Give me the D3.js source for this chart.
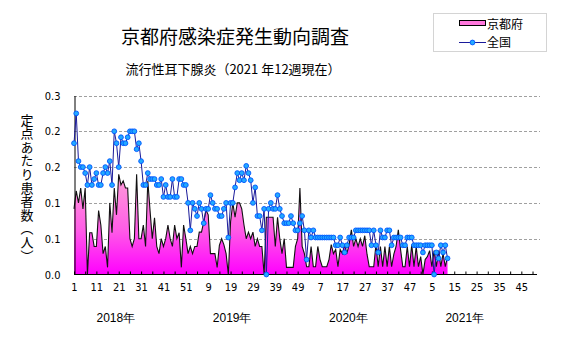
<!DOCTYPE html>
<html><head><meta charset="utf-8">
<script src="https://cdn.jsdelivr.net/npm/d3@7"></script>
<style>body{margin:0;background:#fff}svg{display:block}</style>
</head><body>
<script>
// ---- data ----
const yearLabels = ["2018年", "2019年", "2020年", "2021年"];
const weeksPerYear = [52, 52, 52, 52];
const weekTickLabels = ["1","11","21","31","41","51","9","19","29","39","49","7","17","27","37","47","5","15","25","35","45"];
const yTickValues = [0, 0.06, 0.12, 0.18, 0.24, 0.30];
const yTickLabels = ["0.0", "0.1", "0.1", "0.2", "0.2", "0.3"];
const seriesNames = ["京都府", "全国"];

// Kyoto prefecture (per sentinel), 2018 wk1 .. 2021 wk12
const kyoto = [
 0.11,0.14,0.12,0.145,0.11,0.145,0.0,0.07,0.07,0.047,0.047,0.107,0.083,0.035,0.047,0.012,0.12,0.07,0.145,0.10,
 0.168,0.15,0.157,0.145,0.145,0.06,0.047,0.06,0.168,0.06,0.06,0.083,0.047,0.157,0.107,0.06,0.095,0.047,0.035,0.06,
 0.047,0.06,0.083,0.06,0.047,0.083,0.06,0.07,0.012,0.083,0.06,0.035,
 0.047,0.035,0.047,0.047,0.071,0.071,0.088,0.108,0.10,0.035,0.035,0.035,0.012,0.049,0.06,0.05,0.035,0.0,0.088,0.12,
 0.096,0.12,0.12,0.11,0.083,0.06,0.071,0.06,0.071,0.047,0.06,0.047,0.047,0.0,0.096,0.096,0.096,0.096,0.047,0.096,
 0.06,0.035,0.06,0.012,0.012,0.012,0.012,0.047,0.06,0.145,0.047,0.035,
 0.013,0.013,0.047,0.013,0.013,0.047,0.025,0.013,0.013,0.013,0.025,0.05,0.035,0.042,0.013,0.042,0.035,0.05,0.035,0.05,
 0.075,0.047,0.06,0.047,0.06,0.047,0.065,0.034,0.013,0.013,0.013,0.05,0.013,0.047,0.013,0.047,0.013,0.047,0.013,0.034,
 0.047,0.075,0.042,0.013,0.013,0.047,0.013,0.05,0.013,0.047,0.013,0.03,
 0.0,0.025,0.03,0.04,0.013,0.04,0.013,0.04,0.013,0.035,0.013,0.03
];
// Nationwide
const national = [
 0.22,0.27,0.19,0.18,0.18,0.17,0.15,0.18,0.15,0.16,0.17,0.15,0.15,0.17,0.18,0.17,0.19,0.15,0.24,0.22,
 0.18,0.23,0.22,0.22,0.23,0.24,0.24,0.24,0.21,0.22,0.19,0.15,0.15,0.17,0.16,0.16,0.16,0.15,0.15,0.16,
 0.13,0.15,0.13,0.13,0.16,0.13,0.13,0.16,0.16,0.15,0.15,0.12,
 0.074,0.12,0.11,0.098,0.12,0.11,0.086,0.11,0.11,0.133,0.12,0.11,0.11,0.098,0.098,0.11,0.12,0.062,0.12,0.12,
 0.146,0.17,0.158,0.17,0.158,0.182,0.17,0.158,0.12,0.146,0.098,0.098,0.074,0.11,0.0,0.11,0.12,0.11,0.11,0.133,
 0.11,0.098,0.086,0.086,0.086,0.098,0.086,0.074,0.074,0.086,0.098,0.074,
 0.025,0.074,0.062,0.074,0.062,0.062,0.062,0.062,0.062,0.062,0.062,0.062,0.062,0.049,0.049,0.062,0.049,0.037,0.049,0.062,
 0.062,0.062,0.074,0.074,0.074,0.074,0.074,0.074,0.074,0.049,0.074,0.049,0.037,0.074,0.062,0.062,0.074,0.074,0.049,0.062,
 0.062,0.062,0.062,0.049,0.049,0.062,0.062,0.062,0.049,0.049,0.049,0.049,
 0.037,0.049,0.049,0.049,0.049,0.0,0.037,0.027,0.049,0.037,0.049,0.027
];

// ---- layout ----
const W = 567, H = 339;
const totalWeeks = d3.sum(weeksPerYear);
const svg = d3.select("body").append("svg").attr("width", W).attr("height", H);
const cjk = "'Noto Sans CJK JP','Noto Sans',sans-serif";
const x = d3.scaleLinear().domain([0, totalWeeks - 1]).range([74, 537]);
const y = d3.scaleLinear().domain([0, 0.3]).range([274.5, 95.5]);

const defs = svg.append("defs");
const grad = defs.append("linearGradient").attr("id", "pinkGrad")
  .attr("gradientUnits", "userSpaceOnUse").attr("x1", 0).attr("x2", 0)
  .attr("y1", y(0.17)).attr("y2", y(0));
grad.append("stop").attr("offset", 0).attr("stop-color", "#ffa0d8");
grad.append("stop").attr("offset", 0.55).attr("stop-color", "#ff5ee6");
grad.append("stop").attr("offset", 1).attr("stop-color", "#ff00ff");

// titles
svg.append("text").attr("x", 235).attr("y", 44).attr("text-anchor", "middle")
  .attr("font-family", cjk).attr("font-size", 19).attr("fill", "#000")
  .text("京都府感染症発生動向調査");
svg.append("text").attr("x", 233).attr("y", 74).attr("text-anchor", "middle")
  .attr("font-family", cjk).attr("font-size", 13).attr("fill", "#000")
  .text("流行性耳下腺炎（2021 年12週現在）");

// y axis title (vertical)
svg.append("text").attr("x", 27).attr("y", 188).attr("text-anchor", "middle")
  .attr("font-family", cjk).attr("font-size", 13).attr("letter-spacing", 0.6)
  .style("writing-mode", "vertical-rl").attr("fill", "#000")
  .text("定点あたり患者数（人）");

// gridlines
svg.append("g").selectAll("line").data(yTickValues.filter(d => d > 0)).join("line")
  .attr("x1", 74).attr("x2", 540)
  .attr("y1", d => Math.round(y(d)) + 0.5).attr("y2", d => Math.round(y(d)) + 0.5)
  .attr("stroke", "#a0a0a0").attr("stroke-dasharray", "3,2").attr("stroke-width", 1);

// Kyoto area
const idx = d3.range(kyoto.length);
svg.append("path").datum(idx)
  .attr("d", d3.area().x(i => x(i)).y0(y(0)).y1(i => y(kyoto[i])))
  .attr("fill", "url(#pinkGrad)");
svg.append("path").datum(idx)
  .attr("d", d3.line().x(i => x(i)).y(i => y(kyoto[i])))
  .attr("fill", "none").attr("stroke", "#111").attr("stroke-width", 1.1);

// axes
const xAxis = d3.axisBottom(x)
  .tickValues(d3.range(0, totalWeeks, 5))
  .tickSize(-3).tickPadding(9)
  .tickFormat(d => d % 10 === 0 ? weekTickLabels[d / 10] : "");
const gx = svg.append("g").attr("transform", "translate(0,274.5)").call(xAxis);
gx.select(".domain").attr("d", "M74,0H537").attr("stroke", "#000");
gx.selectAll(".tick line").attr("stroke", "#000");
gx.selectAll("text").attr("font-family", "'Liberation Sans Narrow','DejaVu Sans Condensed',sans-serif")
  .attr("font-size", 11).attr("fill", "#000");

const yAxis = d3.axisLeft(y).tickValues(yTickValues).tickSize(0).tickPadding(14)
  .tickFormat((d, i) => yTickLabels[i]);
const gy = svg.append("g").attr("transform", "translate(74.5,0)").call(yAxis);
gy.select(".domain").attr("stroke", "#000");
gy.selectAll("text").attr("font-family", "'Liberation Sans Narrow','DejaVu Sans Condensed',sans-serif")
  .attr("font-size", 11).attr("fill", "#000");

// national line + markers
svg.append("path").datum(d3.range(national.length))
  .attr("d", d3.line().x(i => x(i)).y(i => y(national[i])))
  .attr("fill", "none").attr("stroke", "#1a1a9a").attr("stroke-width", 1);
svg.append("g").selectAll("circle").data(d3.range(national.length)).join("circle")
  .attr("cx", i => x(i)).attr("cy", i => y(national[i])).attr("r", 2.4)
  .attr("fill", "#22aaff").attr("stroke", "#0055ff").attr("stroke-width", 0.9);

// year labels
let start = 0;
yearLabels.forEach((lab, k) => {
  svg.append("text").attr("x", x(start + 18.7)).attr("y", 322)
    .attr("text-anchor", "middle").attr("font-family", "'Liberation Sans',Arial,sans-serif")
    .attr("font-size", 12).attr("fill", "#000").text(lab);
  start += weeksPerYear[k];
});

// legend
const lg = svg.append("g");
lg.append("rect").attr("x", 433.5).attr("y", 13.5).attr("width", 113).attr("height", 38)
  .attr("fill", "#fff").attr("stroke", "#a8a8a8").attr("stroke-dasharray", "1,1");
lg.append("rect").attr("x", 459.5).attr("y", 20.5).attr("width", 26).attr("height", 5)
  .attr("fill", "#ff77dd").attr("stroke", "#000");
lg.append("text").attr("x", 487).attr("y", 28.5).attr("font-family", cjk)
  .attr("font-size", 12).attr("fill", "#000").text(seriesNames[0]);
lg.append("line").attr("x1", 459).attr("x2", 486).attr("y1", 42.5).attr("y2", 42.5)
  .attr("stroke", "#1a1a9a");
lg.append("circle").attr("cx", 472.5).attr("cy", 42.5).attr("r", 2.4)
  .attr("fill", "#22aaff").attr("stroke", "#0055ff").attr("stroke-width", 0.9);
lg.append("text").attr("x", 487).attr("y", 47).attr("font-family", cjk)
  .attr("font-size", 12).attr("fill", "#000").text(seriesNames[1]);
</script>
</body></html>
